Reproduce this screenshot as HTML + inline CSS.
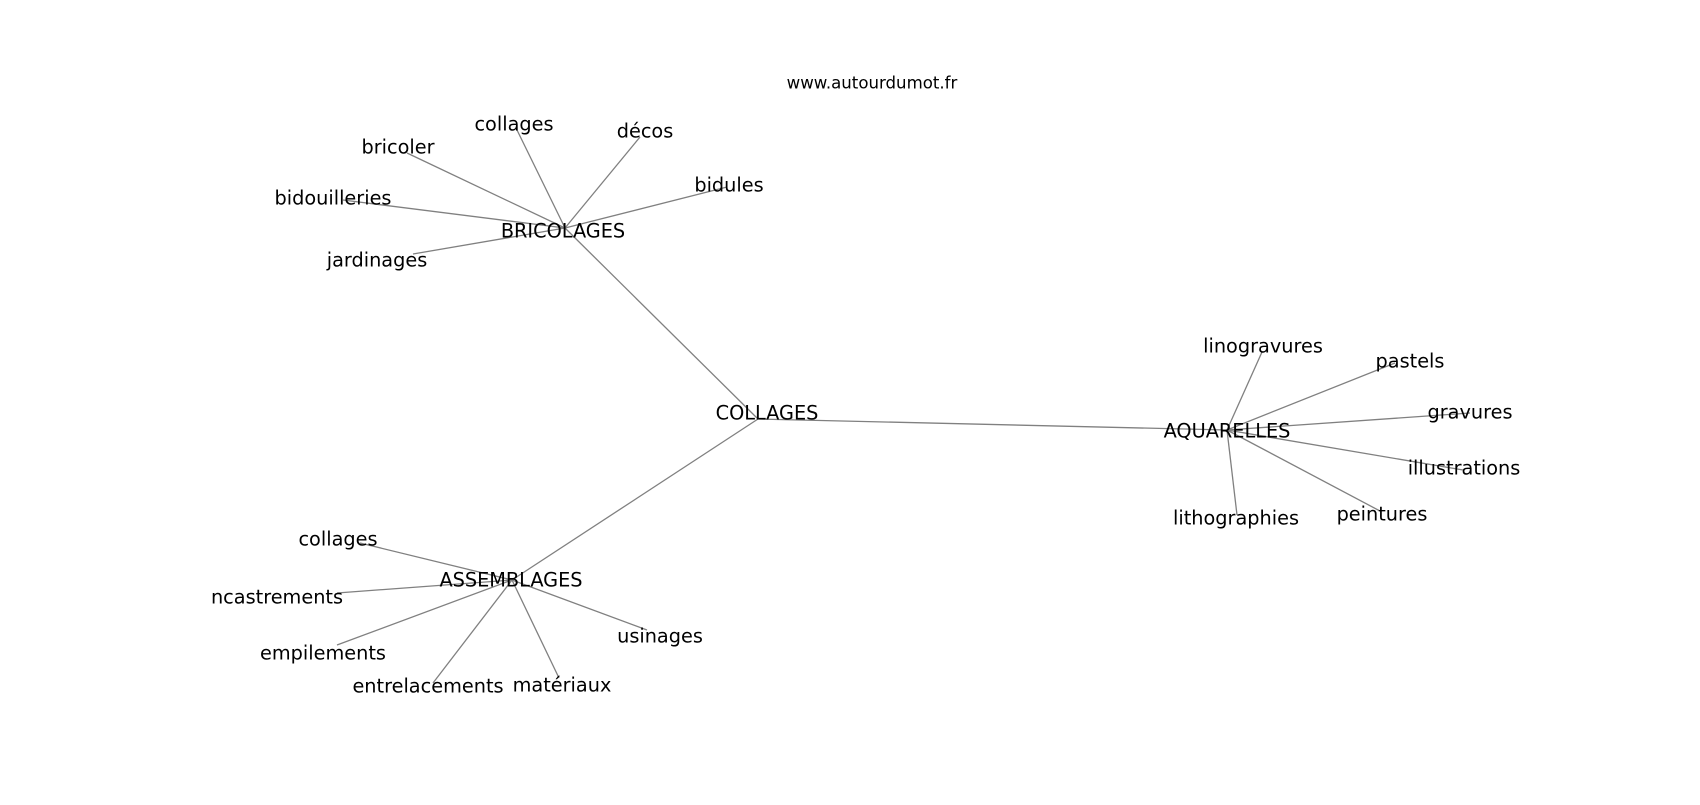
<!DOCTYPE html>
<html><head><meta charset="utf-8"><style>
html,body{margin:0;padding:0;background:#fff;}
svg text{font-family:"DejaVu Sans","Liberation Sans",sans-serif;fill:#000;text-anchor:middle;dominant-baseline:central;font-size:19.3px;}
</style></head><body>
<svg width="1700" height="800" viewBox="0 0 1700 800" xmlns="http://www.w3.org/2000/svg">
<g stroke="#808080" stroke-width="1.3" fill="none">
<line x1="758" y1="419" x2="565" y2="228"/>
<line x1="758" y1="419" x2="1227" y2="430"/>
<line x1="758" y1="419" x2="512" y2="580"/>
<line x1="565" y1="228" x2="407" y2="153"/>
<line x1="565" y1="228" x2="517" y2="130"/>
<line x1="565" y1="228" x2="640" y2="137"/>
<line x1="565" y1="228" x2="343" y2="200"/>
<line x1="565" y1="228" x2="413" y2="254"/>
<line x1="565" y1="228" x2="727" y2="187"/>
<line x1="1227" y1="430" x2="1262" y2="352"/>
<line x1="1227" y1="430" x2="1395" y2="363"/>
<line x1="1227" y1="430" x2="1470" y2="413"/>
<line x1="1227" y1="430" x2="1463" y2="470"/>
<line x1="1227" y1="430" x2="1380" y2="511"/>
<line x1="1227" y1="430" x2="1237" y2="515"/>
<line x1="512" y1="580" x2="360" y2="543"/>
<line x1="512" y1="580" x2="337" y2="593"/>
<line x1="512" y1="580" x2="337" y2="645"/>
<line x1="512" y1="580" x2="433" y2="683"/>
<line x1="512" y1="580" x2="559" y2="678"/>
<line x1="512" y1="580" x2="647" y2="630"/>
</g>
<text x="872" y="83" style="font-size:16.6px">www.autourdumot.fr</text>
<text x="767" y="413">COLLAGES</text>
<text x="563" y="231">BRICOLAGES</text>
<text x="398" y="147">bricoler</text>
<text x="514" y="124">collages</text>
<text x="645" y="131">décos</text>
<text x="333" y="198">bidouilleries</text>
<text x="377" y="260">jardinages</text>
<text x="729" y="185">bidules</text>
<text x="1227" y="431">AQUARELLES</text>
<text x="1263" y="346">linogravures</text>
<text x="1410" y="361">pastels</text>
<text x="1470" y="412">gravures</text>
<text x="1464" y="468">illustrations</text>
<text x="1382" y="514">peintures</text>
<text x="1236" y="518">lithographies</text>
<text x="511" y="580">ASSEMBLAGES</text>
<text x="338" y="539">collages</text>
<text x="277" y="597">ncastrements</text>
<text x="323" y="653">empilements</text>
<text x="428" y="686">entrelacements</text>
<text x="562" y="685">matériaux</text>
<text x="660" y="636">usinages</text>
</svg>
</body></html>
